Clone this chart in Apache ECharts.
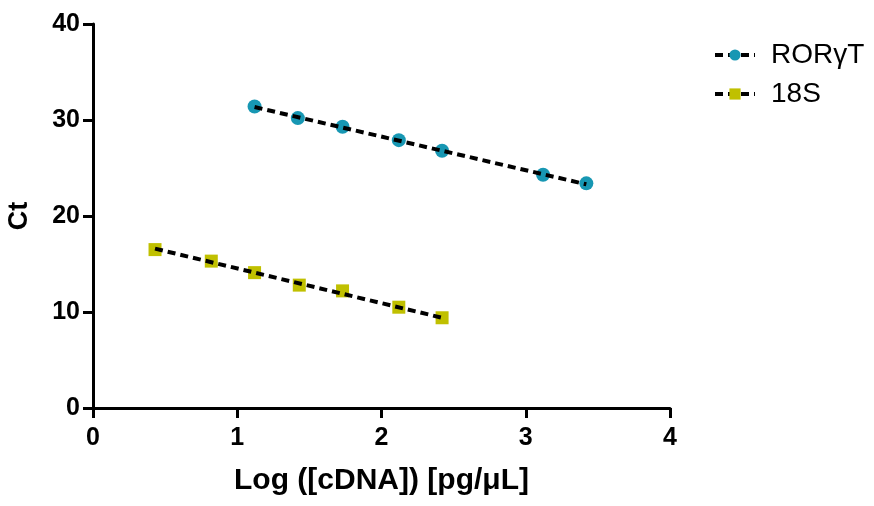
<!DOCTYPE html>
<html>
<head>
<meta charset="utf-8">
<script src="https://cdn.jsdelivr.net/npm/echarts@6/dist/echarts.min.js"></script>
<style>
  html, body { margin: 0; padding: 0; background: #fff; }
  #chart { width: 874px; height: 506px; }
</style>
</head>
<body>
<div id="chart"></div>
<script>
// 读图得到的数据
const rorLog = [1.12, 1.42, 1.73, 2.12, 2.42, 3.12, 3.42]
const rorCt = [31.4, 30.2, 29.3, 27.9, 26.8, 24.3, 23.4]
const s18Log = [0.43, 0.82, 1.12, 1.43, 1.73, 2.12, 2.42]
const s18Ct = [16.5, 15.3, 14.1, 12.8, 12.2, 10.5, 9.4]

// 拟合线端点
const rorFitLog = [1.12, 3.42]
const rorFitCt = [31.35, 23.3]
const s18FitLog = [0.43, 2.42]
const s18FitCt = [16.6, 9.4]

const tealColor = '#1797b3'
const oliveColor = '#c0c000'
const dash = [8, 5]

const pairs = (xs, ys) => xs.map((x, i) => [x, ys[i]])

const chart = echarts.init(document.getElementById('chart'))

const boldFont = {
  fontFamily: 'Liberation Sans, Arial, sans-serif',
  fontWeight: 'bold',
  color: '#000'
}

const option = {
  animation: false,
  grid: { left: 93, right: 204, top: 24, bottom: 98, containLabel: false, outerBoundsMode: 'none' },
  legend: {
    left: 708,
    top: 36,
    orient: 'vertical',
    itemWidth: 40,
    itemHeight: 14,
    itemGap: 11,
    textStyle: {
      fontFamily: 'Liberation Sans, Arial, sans-serif',
      fontSize: 28,
      lineHeight: 28,
      color: '#000',
      padding: [0, 0, 0, 11]
    },
    data: [
      { name: 'RORγT', lineStyle: { color: '#000', width: 4, type: dash, opacity: 1 } },
      { name: '18S', lineStyle: { color: '#000', width: 4, type: dash, opacity: 1 } }
    ]
  },
  xAxis: {
    type: 'value',
    min: 0,
    max: 4,
    interval: 1,
    name: 'Log ([cDNA]) [pg/μL]',
    nameLocation: 'middle',
    nameGap: 58,
    nameTextStyle: Object.assign({ fontSize: 30 }, boldFont),
    axisLine: { show: true, lineStyle: { color: '#000', width: 3 } },
    axisTick: { show: true, length: 10, lineStyle: { color: '#000', width: 3 } },
    axisLabel: Object.assign({ margin: 18, fontSize: 25 }, boldFont),
    splitLine: { show: false }
  },
  yAxis: {
    type: 'value',
    min: 0,
    max: 40,
    interval: 10,
    name: 'Ct',
    nameLocation: 'middle',
    nameGap: 60,
    nameRotate: 90,
    nameTextStyle: Object.assign({ fontSize: 27 }, boldFont),
    axisLine: { show: true, lineStyle: { color: '#000', width: 3 } },
    axisTick: { show: true, length: 10, lineStyle: { color: '#000', width: 3 } },
    axisLabel: Object.assign({ margin: 13, fontSize: 25 }, boldFont),
    splitLine: { show: false }
  },
  series: [
    {
      name: 'RORγT',
      type: 'line',
      data: pairs(rorLog, rorCt),
      symbol: 'circle',
      symbolSize: 14,
      itemStyle: { color: tealColor },
      lineStyle: { opacity: 0 },
      z: 2
    },
    {
      name: 'rorFit',
      type: 'line',
      data: pairs(rorFitLog, rorFitCt),
      symbol: 'none',
      lineStyle: { color: '#000', width: 4, type: dash },
      z: 3
    },
    {
      name: '18S',
      type: 'line',
      data: pairs(s18Log, s18Ct),
      symbol: 'rect',
      symbolSize: 13,
      itemStyle: { color: oliveColor },
      lineStyle: { opacity: 0 },
      z: 2
    },
    {
      name: 's18Fit',
      type: 'line',
      data: pairs(s18FitLog, s18FitCt),
      symbol: 'none',
      lineStyle: { color: '#000', width: 4, type: dash },
      z: 3
    }
  ]
}

chart.setOption(option)
</script>
</body>
</html>
